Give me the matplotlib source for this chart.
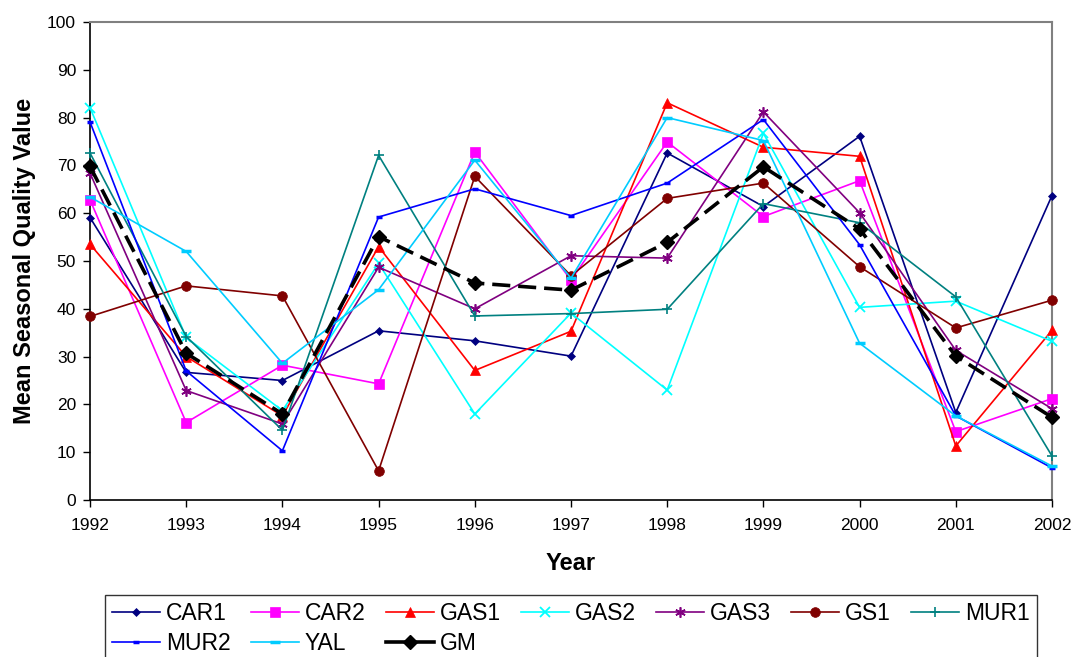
import matplotlib
matplotlib.use("Agg")
import matplotlib.pyplot as plt
from matplotlib.lines import Line2D

plt.rcParams['font.family'] = ['Liberation Sans', 'DejaVu Sans']

years = [1992, 1993, 1994, 1995, 1996, 1997, 1998, 1999, 2000, 2001, 2002]

CAR1 = [59.1, 26.7, 25.0, 35.4, 33.3, 30.1, 72.6, 61.4, 76.1, 18.3, 63.7]
CAR2 = [62.8, 16.2, 28.2, 24.3, 72.8, 46.0, 74.9, 59.3, 66.8, 14.3, 21.2]
GAS1 = [53.5, 30.0, 17.6, 53.0, 27.1, 35.3, 83.1, 73.8, 71.9, 11.3, 35.5]
GAS2 = [82.1, 34.0, 18.7, 49.5, 18.0, 39.1, 23.0, 76.7, 40.3, 41.6, 33.2]
GAS3 = [68.4, 22.9, 15.9, 48.7, 40.0, 51.1, 50.6, 81.2, 60.1, 31.3, 19.1]
GS1 = [38.4, 44.8, 42.7, 6.1, 67.7, 46.9, 63.1, 66.3, 48.8, 36.0, 41.8]
MUR1 = [72.6, 34.2, 14.6, 72.1, 38.5, 39.0, 39.9, 62.0, 58.0, 42.5, 9.2]
MUR2 = [79.1, 27.0, 10.3, 59.2, 65.1, 59.5, 66.3, 79.6, 53.4, 17.6, 6.7]
YAL = [63.4, 52.0, 28.6, 44.0, 71.1, 46.4, 80.0, 75.2, 32.8, 17.6, 7.1]
GM = [69.8, 30.7, 18.0, 55.1, 45.4, 43.9, 53.9, 69.7, 56.7, 30.1, 17.3]

y_ticks = [0, 10, 20, 30, 40, 50, 60, 70, 80, 90, 100]

fig = plt.figure(figsize=(10.73, 6.57), dpi=100)
ax = fig.add_axes([90/1073, 1-500/657, (1052-90)/1073, (500-22)/657])

lw = 1.2
series = [
    ("CAR1", CAR1, dict(color="#000080", marker="D", ms=4.5, mew=0.5)),
    ("CAR2", CAR2, dict(color="#FF00FF", marker="s", ms=6.5, mew=0.5)),
    ("GAS1", GAS1, dict(color="#FF0000", marker="^", ms=7, mew=0.5)),
    ("GAS2", GAS2, dict(color="#00FFFF", marker="x", ms=6.5, mew=1.3)),
    ("GAS3", GAS3, dict(color="#800080", marker=(6, 2, 0), ms=7.5, mew=1.2)),
    ("GS1", GS1, dict(color="#800000", marker="o", ms=7, mew=0.5)),
    ("MUR1", MUR1, dict(color="#008080", marker="+", ms=7.5, mew=1.2)),
    ("MUR2", MUR2, dict(color="#0000FF", marker="_", ms=4.5, mew=2.5)),
    ("YAL", YAL, dict(color="#00CCFF", marker="_", ms=6.5, mew=2.5)),
]
handles = {}
for name, vals, st in series:
    ln, = ax.plot(years, vals, label=name, lw=lw, clip_on=False, zorder=3, **st)
    handles[name] = ln

ax.plot(years, GM, label="GM", color="black", lw=2.6, dashes=(5, 2.2),
        marker="D", ms=7.5, clip_on=False, zorder=4)
handles["GM"] = Line2D([], [], color="black", lw=2.6, marker="D", ms=7.5)

ax.set_xlim(1992, 2002)
ax.set_ylim(0, 100)
ax.set_xticks(years)
ax.set_xticklabels([str(y) for y in years])
ax.set_yticks(y_ticks)

for s in ["left", "bottom"]:
    ax.spines[s].set_color("black")
    ax.spines[s].set_linewidth(1.2)
for s in ["top", "right"]:
    ax.spines[s].set_color("#808080")
    ax.spines[s].set_linewidth(1.5)

ax.tick_params(axis="both", direction="out", length=5, width=1.0, labelsize=12.5, colors="black")
ax.tick_params(axis="x", pad=8)
ax.tick_params(axis="y", pad=5)

ax.set_xlabel("Year", fontsize=17, fontweight="bold", labelpad=14)
ax.set_ylabel("Mean Seasonal Quality Value", fontsize=17, fontweight="bold", labelpad=8)

# column-major fill so rows read: CAR1..MUR1 / MUR2, YAL, GM
order = ["CAR1", "MUR2", "CAR2", "YAL", "GAS1", "GM", "GAS2", "GAS3", "GS1", "MUR1"]
leg = fig.legend([handles[n] for n in order], order,
                 loc="upper left", bbox_to_anchor=(105/1073, -0.2, (1037-105)/1073, 0.2 + 1 - 595/657),
                 ncol=7, mode="expand", fontsize=16.5, frameon=True, fancybox=False,
                 edgecolor="black", handlelength=2.1, handletextpad=0.26,
                 borderpad=0.3, labelspacing=0.3, borderaxespad=0, columnspacing=0.6)
leg.get_frame().set_linewidth(1.0)

fig.savefig("out.png", dpi=100)
